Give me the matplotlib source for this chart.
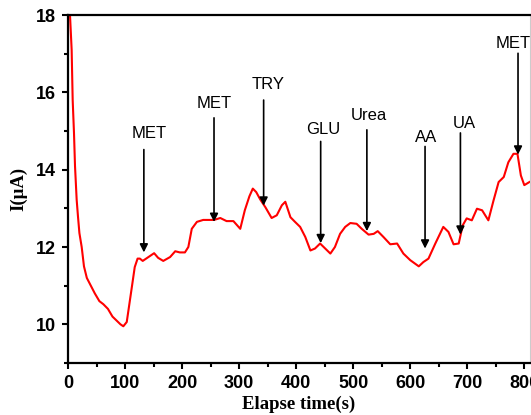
import matplotlib
matplotlib.use('Agg')
import matplotlib.pyplot as plt
from matplotlib.ticker import MultipleLocator

# Amperometric response
time = [2.5, 3.5, 6.4, 8.2, 10.5, 12.3, 15.2, 17.5, 20, 24, 28, 33, 40, 47,
        55, 62, 70, 78, 85, 92, 97,
        103, 112, 117, 122, 126, 131, 141, 151, 158, 167, 179, 188, 196, 205,
        211, 217, 226, 237, 246, 256, 267, 278, 290, 302, 310, 318, 324, 330,
        337, 346, 357, 366, 375, 381, 390, 398, 407, 416, 425, 433, 442, 451,
        460, 468, 477, 486, 495, 506, 515, 527, 536, 543, 553, 565, 577, 588,
        600, 615, 623, 632, 644, 658, 667, 676, 685, 692, 699, 708, 717, 726,
        737, 746, 755, 764, 772, 781, 788, 794, 800, 809]
current = [18.6, 18.0, 17.1, 15.8, 14.95, 14.09, 13.22, 12.79, 12.36, 12.0,
           11.5, 11.2, 11.0, 10.8, 10.6, 10.52, 10.4, 10.2, 10.1, 10.0, 9.95,
           10.06, 10.97, 11.48, 11.70,
           11.70, 11.64, 11.74, 11.84, 11.72, 11.64, 11.74, 11.89, 11.86,
           11.86, 12.0, 12.47, 12.65, 12.70, 12.70, 12.70, 12.75, 12.67, 12.67,
           12.47, 12.95, 13.31, 13.51, 13.42, 13.23, 13.03, 12.75, 12.82,
           13.08, 13.17, 12.77, 12.65, 12.52, 12.26, 11.91, 11.96, 12.09,
           11.96, 11.83, 12.0, 12.34, 12.52, 12.62, 12.60, 12.47, 12.32,
           12.34, 12.41, 12.26, 12.07, 12.09, 11.83, 11.66, 11.50, 11.61,
           11.70, 12.09, 12.52, 12.39, 12.07, 12.09, 12.56, 12.74, 12.69,
           12.99, 12.95, 12.69, 13.20, 13.68, 13.81, 14.19, 14.41, 14.41,
           13.85, 13.60, 13.68]

# Injection markers: label, arrow x, arrow top, arrow tip, label x, label y
labels = ['MET', 'MET', 'TRY', 'GLU', 'Urea', 'AA', 'UA', 'MET']
arrow_x = [133, 256, 343, 443, 524, 626, 688, 789]
arrow_top = [14.52, 15.34, 15.8, 14.73, 15.03, 14.6, 14.95, 17.01]
arrow_tip = [11.86, 12.65, 13.07, 12.1, 12.41, 11.96, 12.32, 14.39]
label_x = [142, 256, 351, 448, 527, 627, 695, 781]
label_y = [14.93, 15.7, 16.19, 15.03, 15.39, 14.82, 15.19, 17.27]

fig = plt.figure(figsize=(5.31, 4.15), dpi=100)
ax = fig.add_axes([68 / 531, 1 - 363 / 415, 462 / 531, 348 / 415])

ax.plot(time, current, color='red', lw=1.5)

for lab, xa, yt, yh, xl, yl in zip(labels, arrow_x, arrow_top, arrow_tip, label_x, label_y):
    ax.annotate('', xy=(xa, yh), xytext=(xa, yt),
                arrowprops=dict(arrowstyle='-|>', color='black', lw=1.2,
                                mutation_scale=12, shrinkA=0, shrinkB=0))
    ax.text(xl, yl, lab, ha='center', va='center', fontsize=12,
            family='Liberation Sans')

ax.set_xlim(0, 810)
ax.set_ylim(9, 18)
ax.xaxis.set_major_locator(MultipleLocator(100))
ax.xaxis.set_minor_locator(MultipleLocator(50))
ax.yaxis.set_major_locator(MultipleLocator(2))
ax.yaxis.set_minor_locator(MultipleLocator(1))
ax.tick_params(which='major', direction='out', length=4.5, width=1.5,
               labelsize=13, pad=4)
ax.tick_params(which='minor', direction='out', length=3, width=1.5)
for lab in ax.get_xticklabels() + ax.get_yticklabels():
    lab.set_fontweight('bold')
    lab.set_family('Liberation Sans')

for side in ['left', 'bottom', 'top']:
    ax.spines[side].set_linewidth(1.6)
ax.spines['right'].set_color('#cccccc')
ax.spines['right'].set_linewidth(0.8)

ax.set_xlabel('Elapse time(s)', family='Liberation Serif', fontweight='bold',
              fontsize=13.5, labelpad=3)
ax.set_ylabel('I(\u03bcA)', family='Liberation Serif', fontweight='bold',
              fontsize=13.5, labelpad=6)

fig.savefig('out.png', dpi=100)
